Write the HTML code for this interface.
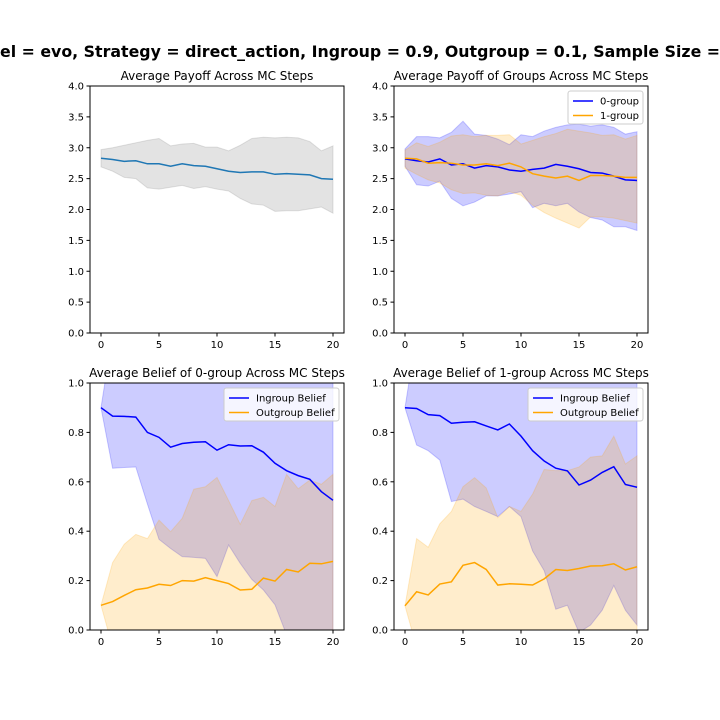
<!DOCTYPE html>
<html><head><meta charset="utf-8"><style>
body{margin:0;background:#fff;}
svg{display:block;font-family:"DejaVu Sans","Liberation Sans",sans-serif;}
</style></head><body>
<svg id="fig" width="720" height="720">
<rect width="720" height="720" fill="#fff"/>
<text x="0" y="57" font-size="16" font-weight="bold" textLength="720" lengthAdjust="spacingAndGlyphs">el = evo, Strategy = direct_action, Ingroup = 0.9, Outgroup = 0.1, Sample Size =</text>
</svg>
<script>
const steps=[0,1,2,3,4,5,6,7,8,9,10,11,12,13,14,15,16,17,18,19,20];
const xTicks=[0,5,10,15,20];
const yTicksPay=[0,0.5,1,1.5,2,2.5,3,3.5,4];
const yTickLabelsPay=["0.0","0.5","1.0","1.5","2.0","2.5","3.0","3.5","4.0"];
const yTicksBel=[0,0.2,0.4,0.6,0.8,1];
const yTickLabelsBel=["0.0","0.2","0.4","0.6","0.8","1.0"];
// panel 1
const payMean=[2.83,2.81,2.78,2.79,2.74,2.74,2.70,2.74,2.71,2.70,2.66,2.62,2.60,2.61,2.61,2.57,2.58,2.57,2.56,2.50,2.49];
const payHi=[2.97,3.00,3.04,3.08,3.12,3.15,3.03,3.06,3.07,3.01,3.01,2.95,3.04,3.15,3.17,3.16,3.17,3.16,3.10,2.95,3.03];
const payLo=[2.69,2.62,2.52,2.50,2.35,2.33,2.36,2.39,2.34,2.37,2.33,2.30,2.18,2.09,2.07,1.97,1.98,1.98,2.01,2.04,1.94];
// panel 2
const g0Mean=[2.82,2.79,2.77,2.82,2.72,2.74,2.67,2.71,2.69,2.64,2.62,2.65,2.67,2.73,2.70,2.66,2.60,2.59,2.54,2.48,2.47];
const g0Hi=[2.98,3.18,3.18,3.16,3.25,3.43,3.22,3.20,3.14,3.05,3.21,3.18,3.27,3.33,3.37,3.38,3.35,3.37,3.33,3.22,3.26];
const g0Lo=[2.70,2.40,2.38,2.46,2.18,2.06,2.12,2.22,2.22,2.25,2.29,2.03,2.10,2.06,2.10,1.96,1.87,1.83,1.72,1.72,1.66];
const g1Mean=[2.83,2.82,2.75,2.76,2.75,2.72,2.72,2.74,2.71,2.75,2.69,2.58,2.54,2.51,2.54,2.47,2.55,2.55,2.54,2.52,2.52];
const g1Hi=[2.96,3.08,3.02,3.09,3.19,3.21,3.18,3.20,3.20,3.21,3.06,3.12,3.18,3.23,3.30,3.27,3.24,3.20,3.21,3.14,3.20];
const g1Lo=[2.67,2.57,2.48,2.43,2.32,2.26,2.27,2.23,2.22,2.29,2.23,2.07,1.95,1.86,1.78,1.70,1.88,1.88,1.86,1.82,1.78];
// panel 3
const b0InMean=[0.90,0.866,0.865,0.862,0.80,0.78,0.74,0.755,0.76,0.762,0.728,0.75,0.745,0.746,0.72,0.675,0.645,0.625,0.61,0.56,0.525];
const b0InHi=[0.90,1.2,1.2,1.2,1.2,1.2,1.2,1.2,1.2,1.2,1.2,1.2,1.2,1.2,1.2,1.2,1.2,1.2,1.2,1.2,1.2];
const b0InLo=[0.90,0.655,0.658,0.66,0.51,0.367,0.33,0.297,0.294,0.29,0.216,0.344,0.27,0.205,0.162,0.102,-0.02,-0.05,-0.05,-0.05,-0.05];
const b0OutMean=[0.10,0.115,0.14,0.163,0.17,0.185,0.18,0.20,0.198,0.212,0.20,0.188,0.162,0.165,0.21,0.198,0.245,0.235,0.27,0.268,0.278];
const b0OutHi=[0.10,0.273,0.347,0.387,0.37,0.445,0.398,0.452,0.57,0.58,0.618,0.524,0.428,0.524,0.537,0.5,0.63,0.572,0.607,0.59,0.63];
const b0OutLo=[0.10,-0.07,-0.1,-0.1,-0.1,-0.1,-0.1,-0.1,-0.1,-0.1,-0.1,-0.1,-0.1,-0.1,-0.1,-0.1,-0.1,-0.1,-0.1,-0.1,-0.1];
// panel 4
const b1InMean=[0.90,0.897,0.872,0.868,0.837,0.841,0.843,0.826,0.81,0.834,0.785,0.726,0.684,0.655,0.644,0.587,0.607,0.638,0.661,0.589,0.578];
const b1InHi=[0.90,1.2,1.2,1.2,1.2,1.2,1.2,1.2,1.2,1.2,1.2,1.2,1.2,1.2,1.2,1.2,1.2,1.2,1.2,1.2,1.2];
const b1InLo=[0.90,0.749,0.726,0.688,0.52,0.53,0.50,0.48,0.459,0.50,0.459,0.32,0.24,0.084,0.10,-0.01,0.02,0.08,0.18,0.08,0.02];
const b1OutMean=[0.098,0.155,0.142,0.186,0.195,0.262,0.273,0.245,0.182,0.187,0.185,0.182,0.207,0.245,0.241,0.249,0.259,0.26,0.268,0.243,0.256];
const b1OutHi=[0.098,0.37,0.335,0.43,0.48,0.58,0.617,0.575,0.455,0.50,0.48,0.55,0.65,0.645,0.645,0.66,0.70,0.705,0.785,0.672,0.705];
const b1OutLo=[0.098,-0.07,-0.1,-0.1,-0.1,-0.1,-0.1,-0.1,-0.1,-0.1,-0.1,-0.1,-0.1,-0.1,-0.1,-0.1,-0.1,-0.1,-0.1,-0.1,-0.1];

const NS="http://www.w3.org/2000/svg";
const fig=document.getElementById('fig');
function mk(tag,attrs,parent){const e=document.createElementNS(NS,tag);for(const k in attrs)e.setAttribute(k,attrs[k]);(parent||fig).appendChild(e);return e;}

function makeAxes(id,x0,y0,w,h,ymax,title){
  const g=mk('g',{});
  
  
  const xs=v=>x0+11+v*(w-22)/20;
  const ys=v=>y0+h-v/ymax*h;
  const cp=mk('clipPath',{id:'clip-'+id},g);
  mk('rect',{x:x0,y:y0,width:w,height:h},cp);
  const plot=mk('g',{'clip-path':'url(#clip-'+id+')'},g);
  const t=mk('text',{x:x0+w/2,y:y0-6,'font-size':12,'text-anchor':'middle'},g);
  t.textContent=title;
  
  
  return {g,plot,xs,ys,x0,y0,w,h};
}
function finishAxes(ax,yt,ylab){
  const g=ax.g;
  mk('rect',{x:ax.x0,y:ax.y0,width:ax.w,height:ax.h,fill:'none',stroke:'#000','stroke-width':1},g);
  xTicks.forEach(v=>{
    const x=ax.xs(v);
    mk('line',{x1:x,x2:x,y1:ax.y0+ax.h,y2:ax.y0+ax.h+3.5,stroke:'#000'},g);
    const t=mk('text',{x:x,y:ax.y0+ax.h+15,'font-size':10,'text-anchor':'middle'},g);
    t.textContent=String(v);
    
    
  });
  yt.forEach((v,i)=>{
    const y=ax.ys(v);
    mk('line',{x1:ax.x0-3.5,x2:ax.x0,y1:y,y2:y,stroke:'#000'},g);
    const t=mk('text',{x:ax.x0-6,y:y+3.5,'font-size':10,'text-anchor':'end'},g);
    t.textContent=ylab[i];
    
    
  });
}
function band(ax,lo,hi,color,op,name){
  let d='M'+steps.map(i=>ax.xs(i)+','+ax.ys(hi[i])).join('L');
  d+='L'+steps.slice().reverse().map(i=>ax.xs(i)+','+ax.ys(lo[i])).join('L')+'Z';
  const p=mk('path',{d:d,fill:color,'fill-opacity':op,stroke:color,'stroke-opacity':op,'stroke-width':1},ax.plot);
  
  
}
function line(ax,vals,color,name){
  const p=mk('polyline',{points:steps.map(i=>ax.xs(i)+','+ax.ys(vals[i])).join(' '),fill:'none',stroke:color,'stroke-width':1.5},ax.plot);
  
  
}
function legend(ax,x,y,w,items){
  const g=mk('g',{},ax.g);
  
  
  mk('rect',{x:x,y:y,width:w,height:33,rx:2.5,fill:'#fff','fill-opacity':0.8,stroke:'#ccc'},g);
  items.forEach((it,i)=>{
    const yy=y+10+i*14.5;
    mk('line',{x1:x+5,x2:x+25,y1:yy,y2:yy,stroke:it[1],'stroke-width':1.5},g);
    const t=mk('text',{x:x+32,y:yy+3.5,'font-size':10},g);
    t.textContent=it[0];
    
    
  });
}
const BLUE='#0000ff',ORANGE='#ffa500';
const a1=makeAxes('payoff-chart',90,86,254,247,4,'Average Payoff Across MC Steps');
band(a1,payLo,payHi,'#808080',0.22,'payoff-band');
line(a1,payMean,'#1f77b4','payoff-mean-line');
finishAxes(a1,yTicksPay,yTickLabelsPay);
const a2=makeAxes('group-payoff-chart',394,86,254,247,4,'Average Payoff of Groups Across MC Steps');
band(a2,g0Lo,g0Hi,BLUE,0.2,'group0-band');
band(a2,g1Lo,g1Hi,ORANGE,0.2,'group1-band');
line(a2,g0Mean,BLUE,'group0-line');
line(a2,g1Mean,ORANGE,'group1-line');
finishAxes(a2,yTicksPay,yTickLabelsPay);
legend(a2,568,91,75,[['0-group',BLUE],['1-group',ORANGE]]);
const a3=makeAxes('belief0-chart',90,383,254,247,1,'Average Belief of 0-group Across MC Steps');
band(a3,b0InLo,b0InHi,BLUE,0.2,'ingroup-band');
band(a3,b0OutLo,b0OutHi,ORANGE,0.2,'outgroup-band');
line(a3,b0InMean,BLUE,'ingroup-line');
line(a3,b0OutMean,ORANGE,'outgroup-line');
finishAxes(a3,yTicksBel,yTickLabelsBel);
legend(a3,224,388,115,[['Ingroup Belief',BLUE],['Outgroup Belief',ORANGE]]);
const a4=makeAxes('belief1-chart',394,383,254,247,1,'Average Belief of 1-group Across MC Steps');
band(a4,b1InLo,b1InHi,BLUE,0.2,'ingroup-band');
band(a4,b1OutLo,b1OutHi,ORANGE,0.2,'outgroup-band');
line(a4,b1InMean,BLUE,'ingroup-line');
line(a4,b1OutMean,ORANGE,'outgroup-line');
finishAxes(a4,yTicksBel,yTickLabelsBel);
legend(a4,528,388,115,[['Ingroup Belief',BLUE],['Outgroup Belief',ORANGE]]);
</script>
</body></html>
